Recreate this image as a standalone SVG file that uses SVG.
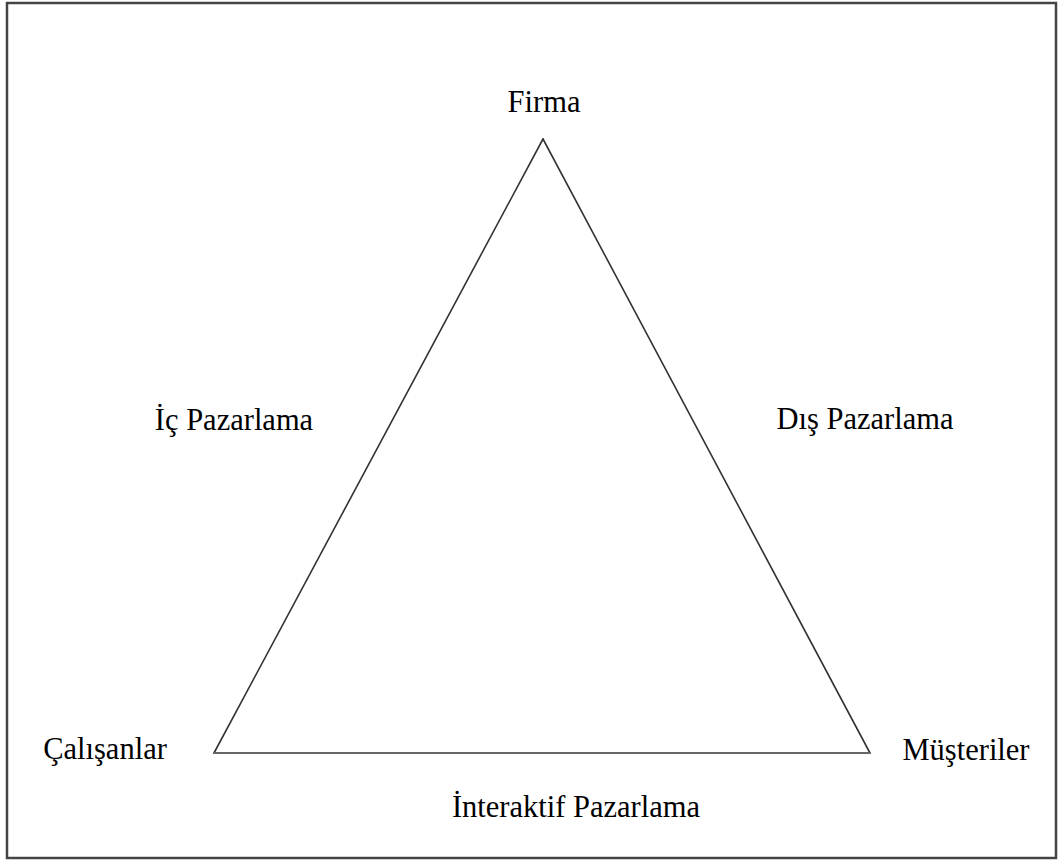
<svg xmlns="http://www.w3.org/2000/svg" width="1060" height="861" viewBox="0 0 1060 861">
  <style>
    .lbl { font-family: "Liberation Serif", "Times New Roman", serif; font-size: 30.5px; fill: #000; text-anchor: middle; }
    .edge { stroke: #333; stroke-width: 1.6; fill: none; stroke-linecap: round; }
    .base { stroke: #666; stroke-width: 2.2; }
    .frame { fill: #fff; stroke: #444; stroke-width: 2.5; }
  </style>
  <rect class="frame" x="7" y="3" width="1049" height="855"/>
  <g id="connectors">
    <line class="edge" x1="543" y1="139" x2="214" y2="753"/>
    <line class="edge" x1="543" y1="139" x2="870" y2="753"/>
    <line class="edge base" x1="214" y1="753" x2="870" y2="753"/>
  </g>
  <g id="node-firma"><text class="lbl" x="544" y="112">Firma</text></g>
  <g id="node-calisanlar"><text class="lbl" x="105" y="759">Çalışanlar</text></g>
  <g id="node-musteriler"><text class="lbl" x="966" y="760">Müşteriler</text></g>
  <g id="label-ic"><text class="lbl" x="234" y="430">İç Pazarlama</text></g>
  <g id="label-dis"><text class="lbl" x="865" y="429">Dış Pazarlama</text></g>
  <g id="label-interaktif"><text class="lbl" x="576" y="817">İnteraktif Pazarlama</text></g>
</svg>
